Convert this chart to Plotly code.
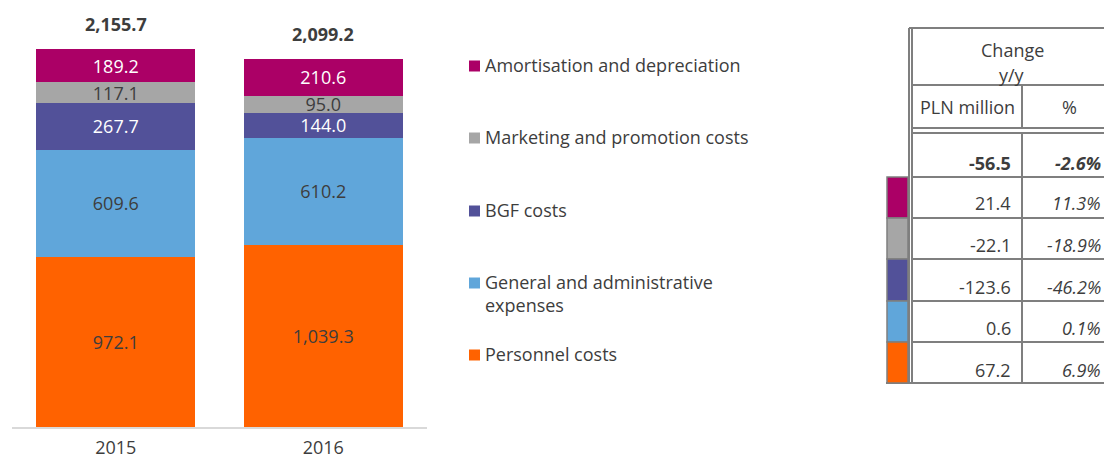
import plotly.graph_objects as go

# ---- data -------------------------------------------------------------
years = ["2015", "2016"]
series_names = [
    "Personnel costs",
    "General and administrative<br>expenses",
    "BGF costs",
    "Marketing and promotion costs",
    "Amortisation and depreciation",
]
personnel = [972.1, 1039.3]
general_admin = [609.6, 610.2]
bgf = [267.7, 144.0]
marketing = [117.1, 95.0]
amortisation = [189.2, 210.6]
totals = [2155.7, 2099.2]

# y/y change table (rows: total, amortisation, marketing, BGF, G&A, personnel)
change_pln = ["-56.5", "21.4", "-22.1", "-123.6", "0.6", "67.2"]
change_pct = ["-2.6%", "11.3%", "-18.9%", "-46.2%", "0.1%", "6.9%"]

# ---- style ------------------------------------------------------------
W, H = 1104, 459
FONT = "Open Sans"
TXT = "#3d3d3d"
GRID = "#7f7f7f"
colors = ["#FF6200", "#60A6DA", "#525199", "#A6A6A6", "#AB0066"]
label_colors = [TXT, TXT, "white", TXT, "white"]
values = [personnel, general_admin, bgf, marketing, amortisation]


def px(x):
    return x / W


def py(y):
    return 1 - y / H


fig = go.Figure()
for name, vals, col, lc in zip(series_names, values, colors, label_colors):
    fig.add_trace(go.Bar(
        x=years, y=vals, name=name,
        marker=dict(color=col, line=dict(width=0)),
        text=[f"{v:,.1f}" for v in vals],
        textposition="inside", insidetextanchor="middle",
        textfont=dict(family=FONT, size=18, color=lc),
        showlegend=False, hoverinfo="skip",
    ))

annotations = []
# totals above each bar (category index on the x axis)
for idx, t in enumerate(totals):
    annotations.append(dict(
        x=idx, y=t, xref="x", yref="y", text=f"<b>{t:,.1f}</b>",
        showarrow=False, yanchor="bottom", yshift=11,
        font=dict(family=FONT, size=18, color=TXT),
    ))

shapes = []
# custom legend, top entry first
legend_y = [66, 138, 211, 283, 355]
legend_order = list(range(len(series_names)))[::-1]
for yc, i in zip(legend_y, legend_order):
    shapes.append(dict(type="rect", xref="paper", yref="paper",
                       x0=px(469), x1=px(480), y0=py(yc - 5.5), y1=py(yc + 5.5),
                       fillcolor=colors[i], line=dict(width=0)))
    annotations.append(dict(
        x=px(483), y=py(yc - 15), xref="paper", yref="paper",
        text=series_names[i], showarrow=False, xanchor="left", yanchor="top",
        align="left", font=dict(family=FONT, size=18, color=TXT),
    ))


# ---- change table -----------------------------------------------------
def hline(y, x0, x1=1140):
    shapes.append(dict(type="line", xref="paper", yref="paper",
                       x0=px(x0), x1=px(x1), y0=py(y), y1=py(y),
                       line=dict(color=GRID, width=2)))


def vline(x, y0, y1):
    shapes.append(dict(type="line", xref="paper", yref="paper",
                       x0=px(x), x1=px(x), y0=py(y0), y1=py(y1),
                       line=dict(color=GRID, width=2)))


row_edges = [133, 177, 218, 259, 301, 342, 383]
vline(909, 28, 383)
vline(912, 28, 383)
hline(28, 909)
hline(85, 912)
hline(128, 912)
for y in row_edges[:-1]:
    hline(y, 912)
hline(383, 886)
vline(1022, 85, 128)
vline(1022, 133, 383)

# colour keys beside the table rows
key_colors = colors[::-1]
for k, col in enumerate(key_colors):
    y0, y1 = row_edges[k + 1], row_edges[k + 2]
    shapes.append(dict(type="rect", xref="paper", yref="paper",
                       x0=px(887), x1=px(908), y0=py(y1), y1=py(y0),
                       fillcolor=col, line=dict(color=GRID, width=1.5)))


def cell(text, x, y, xanchor="center"):
    annotations.append(dict(
        x=px(x), y=py(y), xref="paper", yref="paper", text=text,
        showarrow=False, xanchor=xanchor, yanchor="middle",
        font=dict(family=FONT, size=18, color=TXT),
    ))


cell("Change", 1012, 50)
cell("y/y", 1012, 75)
cell("PLN million", 967, 107)
cell("%", 1069, 107)
row_text_y = [163, 203, 245, 287, 328, 370]
for r, (a, b, yc) in enumerate(zip(change_pln, change_pct, row_text_y)):
    if r == 0:
        cell(f"<b>{a}</b>", 1013, yc, "right")
        cell(f"<b><i>{b}</i></b>", 1103, yc, "right")
    else:
        cell(a, 1013, yc, "right")
        cell(f"<i>{b}</i>", 1103, yc, "right")

# ---- layout -----------------------------------------------------------
y_top = 427 / 0.1753
fig.update_layout(
    width=W, height=H, barmode="stack", bargap=0.234,
    margin=dict(l=0, r=0, t=0, b=0),
    paper_bgcolor="white", plot_bgcolor="white",
    font=dict(family=FONT, size=18, color=TXT),
    uniformtext=dict(minsize=18, mode="show"),
    xaxis=dict(type="category", domain=[px(12), px(427)], range=[-0.5, 1.5],
               showline=True, linecolor="#d9d9d9", linewidth=2,
               showgrid=False, ticks="", zeroline=False,
               automargin=False, ticklabelstandoff=3,
               tickfont=dict(family=FONT, size=18, color=TXT)),
    yaxis=dict(domain=[py(427), 1], range=[0, y_top], visible=False,
               automargin=False),
    annotations=annotations, shapes=shapes,
)

fig.write_html("out.html")
